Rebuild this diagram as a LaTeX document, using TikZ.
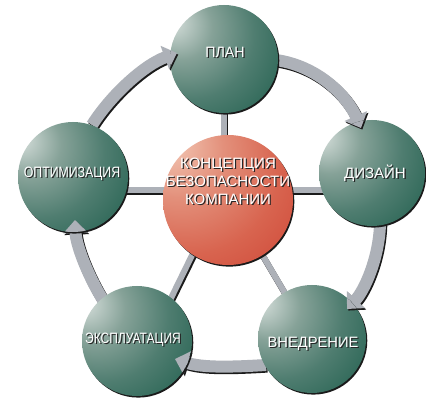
\documentclass[tikz,border=0pt]{standalone}
\usepackage{fontspec}
\usepackage{graphicx}
\setmainfont{Liberation Sans}
\usetikzlibrary{arrows.meta,calc,shadows}

\definecolor{arrowgray}{HTML}{ADB1B8}
\definecolor{shadowc}{HTML}{1A1A1A}
\definecolor{gA}{HTML}{E0E6E3}
\definecolor{gB}{HTML}{C4D1CC}
\definecolor{gC}{HTML}{86A298}
\definecolor{gD}{HTML}{4F7D70}
\definecolor{gE}{HTML}{22604F}
\definecolor{gF}{HTML}{0A4A3A}
\definecolor{gG}{HTML}{06402F}
\definecolor{rA}{HTML}{F6D6C8}
\definecolor{rB}{HTML}{F0BEAB}
\definecolor{rC}{HTML}{E3907B}
\definecolor{rD}{HTML}{D8644F}
\definecolor{rE}{HTML}{CE4636}
\definecolor{rF}{HTML}{C2342A}
\definecolor{rG}{HTML}{A8241A}

\pgfdeclareradialshading{greenball}{\pgfpoint{-25bp}{18bp}}{%
  color(0bp)=(gA); color(4bp)=(gB); color(15bp)=(gC); color(30bp)=(gD);
  color(48bp)=(gE); color(65bp)=(gF); color(82bp)=(gG)}
\pgfdeclareradialshading{redball}{\pgfpoint{-25bp}{24bp}}{%
  color(0bp)=(rA); color(5bp)=(rB); color(18bp)=(rC); color(35bp)=(rD);
  color(52bp)=(rE); color(70bp)=(rF); color(86bp)=(rG)}

\tikzset{
  ballshadow/.style={drop shadow={shadow xshift=1.3pt,shadow yshift=-1.6pt,opacity=1,fill=shadowc}},
  gsphere/.style={circle,inner sep=0pt,minimum size=#1,shading=greenball,ballshadow},
  rsphere/.style={circle,inner sep=0pt,minimum size=#1,shading=redball,ballshadow},
  spokeshade/.style={draw=shadowc,line width=6pt,transform canvas={shift={(1.2pt,-2.2pt)}}},
  spokebody/.style={draw=arrowgray,line width=6pt},
  arrowshade/.style={draw=shadowc,line width=12pt,-{Triangle[width=24pt,length=13pt]},
    transform canvas={shift={(1.3pt,-1.6pt)}}},
  arrowbody/.style={draw=arrowgray,line width=12pt,-{Triangle[width=24pt,length=13pt]}},
  lbl/.style={text=white,font=\fontsize{15}{18}\selectfont,text height=10.7pt,text depth=0pt,
    inner sep=0pt,align=center},
  lblshadow/.style={lbl,text=black!85}
}

\newcommand\cyclearrow[1]{\draw[arrowshade] #1; \draw[arrowbody] #1;}
\newcommand\shadowlabel[3]{%
  \node[lblshadow] at ($(#1)+(1.3,1.3)$) {#3};
  \node[lbl] (#2) at (#1) {#3};}

\begin{document}
\begin{tikzpicture}[x=1pt,y=-1pt]
\fill[white] (0,0) rectangle (426,398);
\useasboundingbox (0,0) rectangle (426,398);

% positions of the spheres
\coordinate (hub) at (224,190);
\path (224,59) coordinate (plan)
      (372,173) coordinate (diz)
      (312,339) coordinate (vned)
      (137,341) coordinate (expl)
      (73,177) coordinate (opt);

% spokes
\foreach \t in {(plan),(hub -| opt),(hub -| diz),([xshift=13pt]expl),(vned)}{
  \draw[spokeshade] (hub) -- \t;
  \draw[spokebody] (hub) -- \t;
}

% cycle arrows (under the spheres)
\newcommand\arrA{($(opt)+(19,-52)$) .. controls (111,95) and (144,65) .. ($(plan)+(-47,-6)$)}
\newcommand\arrB{($(plan)+(52,1)$) .. controls (318,66) and (347,96) .. ($(diz)+(-11,-45)$)}
\newcommand\arrC{($(diz)+(8,51)$) .. controls (379,259) and (364,291) .. ($(vned)+(35,-30)$)}
\newcommand\arrD{($(vned)+(-46,26)$) .. controls (233,367) and (203,368) .. ($(expl)+(38,18)$)}
\newcommand\arrE{($(expl)+(-34,-41)$) .. controls (88,276) and (76,245) .. ($(opt)+(2,43)$)}
\cyclearrow{\arrA}
\cyclearrow{\arrB}
\cyclearrow{\arrC}
\cyclearrow{\arrD}
\cyclearrow{\arrE}

% spheres
\node[gsphere=108pt] (splan) at (plan) {};
\node[gsphere=106pt] (sdiz) at (diz) {};
\node[gsphere=108pt] (svned) at (vned) {};
\node[gsphere=110pt] (sexpl) at (expl) {};
\node[gsphere=110pt] (sopt) at (opt) {};
\node[rsphere=130pt] (core) at (228,200) {};

% arrow heads over the target spheres
\begin{scope}\clip (plan) circle[radius=54pt]; \cyclearrow{\arrA}\end{scope}
\begin{scope}\clip (diz) circle[radius=53pt]; \cyclearrow{\arrB}\end{scope}
\begin{scope}\clip (vned) circle[radius=54pt]; \cyclearrow{\arrC}\end{scope}
\begin{scope}\clip (expl) circle[radius=55pt]; \cyclearrow{\arrD}\end{scope}
\begin{scope}\clip (opt) circle[radius=55pt]; \cyclearrow{\arrE}\end{scope}

% labels
\shadowlabel{225,52}{lplan}{\scalebox{0.95}[1]{ПЛАН}}
\shadowlabel{375,173}{ldiz}{ДИЗАЙН}
\shadowlabel{313,342}{lvned}{\scalebox{0.98}[1]{ВНЕДРЕНИЕ}}
\shadowlabel{133,338}{lexpl}{\scalebox{0.8}[1]{ЭКСПЛУАТАЦИЯ}}
\shadowlabel{72,172}{lopt}{\scalebox{0.82}[1]{ОПТИМИЗАЦИЯ}}
\shadowlabel{228,199}{lcore}{КОНЦЕПЦИЯ\\БЕЗОПАСНОСТИ\\КОМПАНИИ}
\end{tikzpicture}
\end{document}
